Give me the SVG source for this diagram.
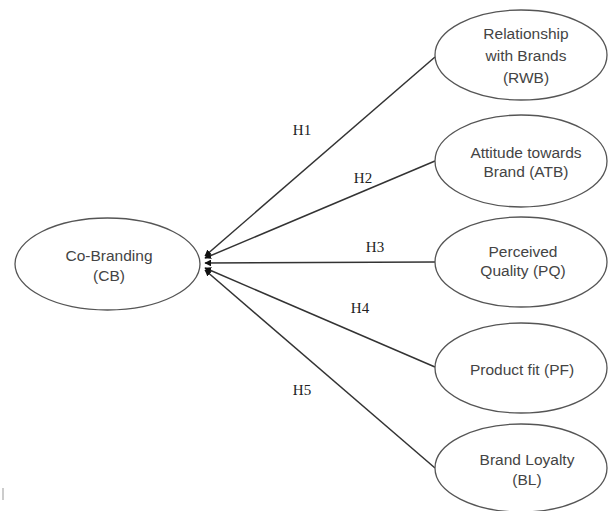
<svg xmlns="http://www.w3.org/2000/svg" width="608" height="511" viewBox="0 0 608 511">
<style>
.node ellipse{fill:#fff;stroke:#555;stroke-width:1.3}
.node text{font-family:"Liberation Sans",Arial,sans-serif;font-size:15.5px;fill:#444;text-anchor:middle}
.conn line{stroke:#333;stroke-width:1.5}
.lbl{font-family:"Liberation Serif","Times New Roman",serif;font-size:15px;fill:#222;text-anchor:middle}
</style>
<defs>
<marker id="ah" viewBox="0 0 10 10" refX="9" refY="5" markerWidth="4.5" markerHeight="4.5" orient="auto" markerUnits="strokeWidth">
<path d="M0,0 L10,5 L0,10 z" fill="#111"/>
</marker>
</defs>
<rect width="608" height="511" fill="#fff"/>
<g class="conn">
<line x1="435" y1="57" x2="205" y2="256" marker-end="url(#ah)"/>
<line x1="435" y1="161" x2="205" y2="258" marker-end="url(#ah)"/>
<line x1="435" y1="262" x2="205" y2="263" marker-end="url(#ah)"/>
<line x1="435" y1="367" x2="205" y2="268" marker-end="url(#ah)"/>
<line x1="435" y1="468" x2="205" y2="270" marker-end="url(#ah)"/>
</g>
<g class="labels">
<text class="lbl" x="302" y="135">H1</text>
<text class="lbl" x="363" y="183">H2</text>
<text class="lbl" x="375" y="252">H3</text>
<text class="lbl" x="360" y="313">H4</text>
<text class="lbl" x="302" y="395">H5</text>
</g>
<g id="CB" class="node">
<ellipse cx="107.5" cy="264" rx="92.5" ry="46"/>
<text x="109" y="261">Co-Branding</text>
<text x="109" y="281">(CB)</text>
</g>
<g id="RWB" class="node">
<ellipse cx="521" cy="55" rx="86" ry="45"/>
<text x="526" y="39">Relationship</text>
<text x="526" y="61">with Brands</text>
<text x="526" y="83">(RWB)</text>
</g>
<g id="ATB" class="node">
<ellipse cx="521" cy="161" rx="86" ry="46"/>
<text x="526" y="158">Attitude towards</text>
<text x="526" y="177">Brand (ATB)</text>
</g>
<g id="PQ" class="node">
<ellipse cx="521" cy="262" rx="86" ry="45"/>
<text x="523" y="257">Perceived</text>
<text x="523" y="276">Quality (PQ)</text>
</g>
<g id="PF" class="node">
<ellipse cx="521" cy="368" rx="86" ry="45"/>
<text x="522" y="375">Product fit (PF)</text>
</g>
<g id="BL" class="node">
<ellipse cx="521" cy="468" rx="86" ry="44"/>
<text x="527" y="465">Brand Loyalty</text>
<text x="527" y="485">(BL)</text>
</g>
<line x1="3" y1="488" x2="3" y2="500" stroke="#999" stroke-width="1"/>
</svg>
